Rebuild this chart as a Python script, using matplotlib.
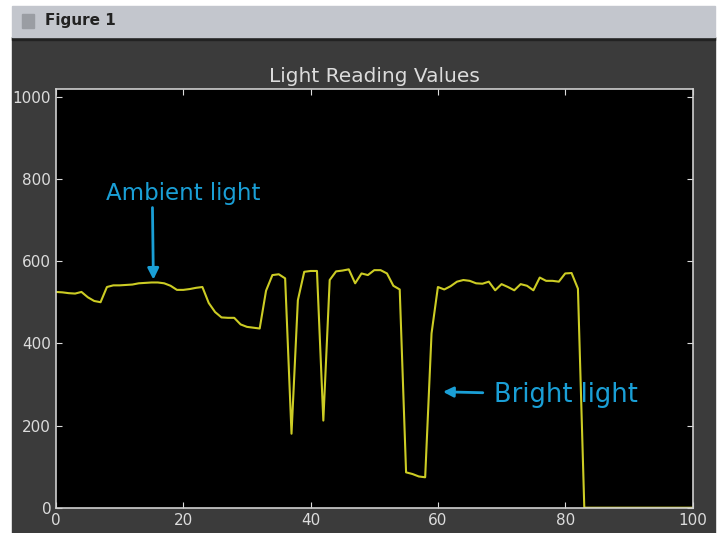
import numpy as np
import matplotlib
matplotlib.use('Agg')
from matplotlib import pyplot as plt
from matplotlib.patches import Rectangle

# light sensor readings, one per sample
readings = [525, 524, 522, 521, 525, 512, 503, 500, 537, 541,
            541, 542, 543, 546, 547, 548, 548, 546, 540, 530,
            530, 532, 535, 537, 498, 476, 463, 462, 462, 446,
            440, 438, 436, 528, 566, 568, 558, 180, 505, 574,
            576, 576, 212, 554, 575, 577, 580, 546, 570, 566,
            578, 578, 570, 540, 531, 86, 82, 76, 74, 424,
            537, 531, 539, 550, 554, 552, 546, 545, 550, 529,
            544, 537, 529, 544, 540, 529, 560, 552, 552, 550,
            570, 571, 533, 0, 0, 0, 0, 0, 0, 0,
            0, 0, 0, 0, 0, 0, 0, 0, 0, 0, 0]
samples = np.arange(len(readings))

x_ticks = [0, 20, 40, 60, 80, 100]
y_ticks = [0, 200, 400, 600, 800, 1000]

bg = '#3b3b3b'
fg = '#dcdcdc'
blue = '#1a9fd6'

fig = plt.figure(figsize=(7.23, 5.33), dpi=100, facecolor='white')

# window frame: dark canvas + title bar
def frame_rect(x0, y0, w, h, color, z=-10):
    fig.patches.append(Rectangle((x0/723, 1 - (y0 + h)/533), w/723, h/533,
                                 transform=fig.transFigure, color=color, zorder=z))

frame_rect(12, 37, 703, 496, bg)
frame_rect(12, 37, 703, 3, '#222222', -9)
frame_rect(12, 6, 703, 31, '#c3c6cd', -9)
frame_rect(22, 14, 12, 14, '#9a9da3', -8)
fig.text(45/723, 1 - 21/533, 'Figure 1', fontsize=11, fontweight='bold',
         color='#222222', va='center', ha='left')

ax = fig.add_axes([56/723, 25.3/533, (692.5-56)/723, (507.7-88.5)/533])
ax.set_zorder(5)
ax.set_facecolor('black')
ax.plot(samples, readings, color='#cccc24', lw=1.5)

ax.set_xlim(0, 100)
ax.set_ylim(0, 1020)
ax.set_xticks(x_ticks)
ax.set_yticks(y_ticks)
ax.tick_params(direction='in', colors=fg, labelsize=11, length=4,
               top=True, right=True)
for s in ax.spines.values():
    s.set_color('#cfcfcf')
    s.set_linewidth(1.2)

ax.set_title('Light Reading Values', color=fg, fontsize=14.5, pad=5)

ax.annotate('Ambient light', xy=(15.3, 555), xytext=(20, 765),
            color=blue, fontsize=16.5, ha='center', va='center',
            arrowprops=dict(arrowstyle='-|>', color=blue, lw=2,
                            shrinkA=0, shrinkB=0,
                            relpos=(0.3, 0)))
ax.annotate('Bright light', xy=(60.8, 282), xytext=(68.8, 275),
            color=blue, fontsize=18.5, ha='left', va='center',
            arrowprops=dict(arrowstyle='-|>', color=blue, lw=2,
                            mutation_scale=15, shrinkA=6, shrinkB=0))

fig.savefig('out.png', dpi=100, facecolor=fig.get_facecolor())
